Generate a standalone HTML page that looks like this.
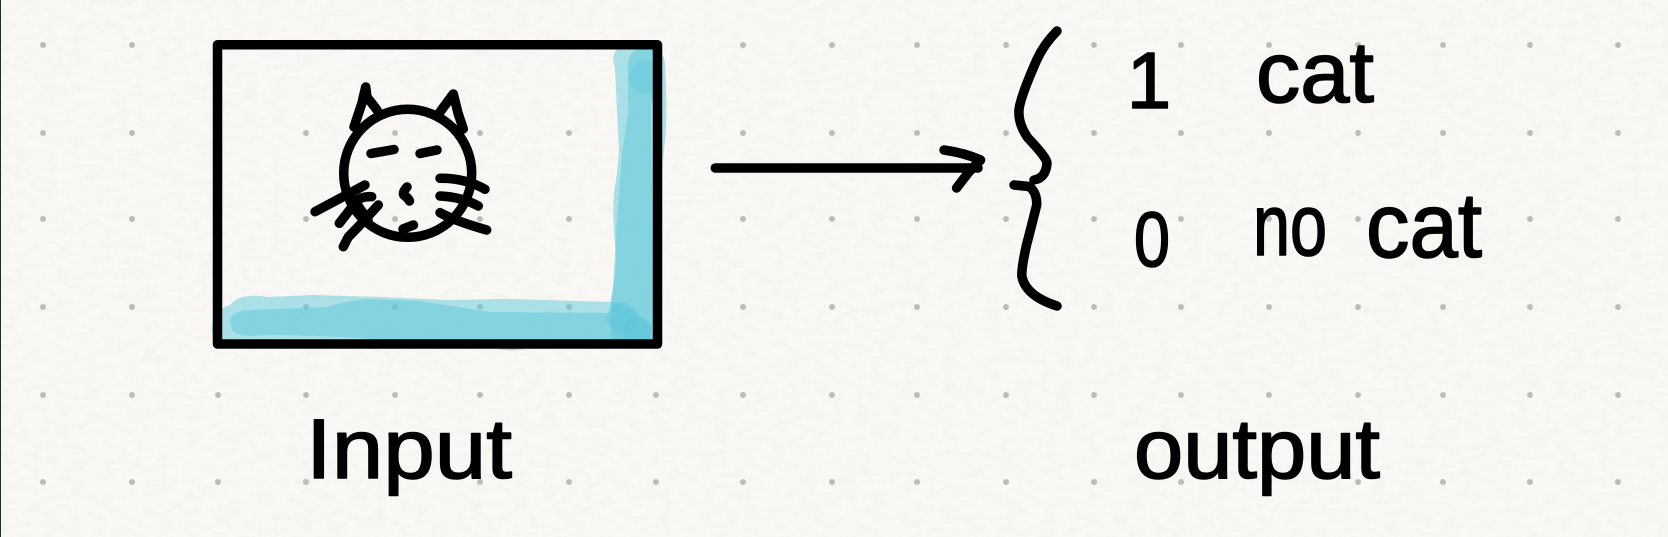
<!DOCTYPE html>
<html lang="en">
<head>
<meta charset="utf-8">
<title>Binary classification sketch</title>
<style>
html,body{margin:0;padding:0;width:1668px;height:537px;overflow:hidden;background:#f9f8f4}
svg{display:block}
.ink{fill:none;stroke:#000;stroke-width:9.5;stroke-linecap:round;stroke-linejoin:round}
.hand{font-family:"Liberation Sans",sans-serif;fill:#000;stroke:#000;stroke-width:1.6;stroke-linejoin:round}
</style>
</head>
<body>
<svg xmlns="http://www.w3.org/2000/svg" width="1668" height="537" viewBox="0 0 1668 537">
  <defs>
    <filter id="paper" x="0" y="0" width="100%" height="100%">
      <feTurbulence type="fractalNoise" baseFrequency="0.07 0.14" numOctaves="4" seed="7"/>
      <feColorMatrix type="matrix" values="0 0 0 0 0.45  0 0 0 0 0.44  0 0 0 0 0.40  0.5 0.5 0 0 -0.42"/>
    </filter>
  </defs>

  <rect x="0" y="0" width="1668" height="537" fill="#f9f8f4"/>
  <rect x="0" y="0" width="1668" height="537" filter="url(#paper)" opacity="0.2"/>
  <rect x="0" y="0" width="1" height="537" fill="#1f2c38"/>

  <path fill="none" stroke="#bdbcb8" stroke-width="6" stroke-linecap="round"
    d="M43 45h0M132 45h0M218 45h0M306 45h0M395 45h0M480 45h0M569 45h0M656 45h0M743 45h0M832 45h0M917 45h0M1006 45h0M1094 45h0M1181 45h0M1269 45h0M1358 45h0M1443 45h0M1530 45h0M1618 45h0
       M43 133h0M132 133h0M218 133h0M306 133h0M395 133h0M480 133h0M569 133h0M656 133h0M743 133h0M832 133h0M917 133h0M1006 133h0M1094 133h0M1181 133h0M1269 133h0M1358 133h0M1443 133h0M1530 133h0M1618 133h0
       M43 219h0M132 219h0M218 219h0M306 219h0M395 219h0M480 219h0M569 219h0M656 219h0M743 219h0M832 219h0M917 219h0M1006 219h0M1094 219h0M1181 219h0M1269 219h0M1358 219h0M1443 219h0M1530 219h0M1618 219h0
       M43 307h0M132 307h0M218 307h0M306 307h0M395 307h0M480 307h0M569 307h0M656 307h0M743 307h0M832 307h0M917 307h0M1006 307h0M1094 307h0M1181 307h0M1269 307h0M1358 307h0M1443 307h0M1530 307h0M1618 307h0
       M43 395h0M132 395h0M218 395h0M306 395h0M395 395h0M480 395h0M569 395h0M656 395h0M743 395h0M832 395h0M917 395h0M1006 395h0M1094 395h0M1181 395h0M1269 395h0M1358 395h0M1443 395h0M1530 395h0M1618 395h0
       M43 482h0M132 482h0M218 482h0M306 482h0M395 482h0M480 482h0M569 482h0M656 482h0M743 482h0M832 482h0M917 482h0M1006 482h0M1094 482h0M1181 482h0M1269 482h0M1358 482h0M1443 482h0M1530 482h0M1618 482h0"/>

  <g fill="#58c6da" fill-opacity="0.48">
    <path
      d="M212 325Q214 310 230 305Q238 296 250 296Q258 295 267 297L313 295L380 297L447 300L513 299L610 302Q630 305 640 316Q652 322 652 330L650 345L497 349Q512 352 527 349L380 345L263 342L215 342Q211 334 212 325Z"/>
    <path
      d="M230 320Q232 311 250 310L327 307Q345 301 367 299L420 301Q470 309 490 312L612 313L612 342L400 342Q340 335 262 335Q240 338 232 330Z"/>
    <path
      d="M613 60Q614 52 617 49L650 46Q664 50 665 63Q667 100 666 130L662 170L660 342L612 342Q610 320 610 303Q617 270 616 253Q612 220 614 193Q618 170 619 150Q617 110 615 70Z"/>
    <path
      d="M628 63Q630 50 640 49L660 50L660 65Q662 100 651 103L651 137L652 187L653 313L653 342L612 342L612 300L613 287L617 220L622 153L628 113Z"/>
    <circle cx="646" cy="77" r="17" fill-opacity="0.35"/>
    <circle cx="622" cy="317" r="15" fill-opacity="0.35"/>
    <circle cx="637" cy="331" r="14" fill-opacity="0.35"/>
  </g>

  <path class="ink" style="stroke-width:9.5" d="M217.5 44.7H657.5V344H217.5Z"/>

  <g class="ink">
    <circle cx="407.7" cy="173.3" r="64"/>
    <path d="M354 127L362 103L365.7 87L367 97L377 110"/>
    <path d="M440 112L453.3 94L458 113L463.3 129"/>
    <path d="M371 153.5L394 149.5"/>
    <path d="M420 153.5L437 150"/>
    <path d="M407 187Q401 194 405 196Q408 198 409.5 201"/>
    <path d="M403 229L413.5 225"/>
    <path d="M365 185L315 211.7"/>
    <path d="M371.7 196.7Q362 196 356.7 201L339.3 223.3"/>
    <path d="M378.3 205L360 225L348.3 237L343.3 246.7"/>
    <path d="M348.3 192L368 220"/>
    <path d="M440 178.3Q465 178 485 189.3"/>
    <path d="M440 196Q462 197 478.3 206"/>
    <path d="M440 212.7Q455 221 486.7 230"/>
  </g>

  <g class="ink">
    <path d="M715.3 168H978"/>
    <path d="M944 150Q965 153 980.6 160Q970 170 965 177L956.6 188"/>
  </g>

  <g class="ink">
    <path d="M1057 31Q1044 44 1036.7 60Q1020 98 1019 110Q1018 124 1028 138Q1047 158 1047 163Q1046 178 1034 180"/>
    <path d="M1014 185L1029 186.5Q1037 192 1036.7 205Q1030 232 1026.5 245Q1021 270 1022 277Q1026 296 1057 306"/>
  </g>

  <text class="hand" x="1149" y="108" font-size="80" text-anchor="middle">1</text>
  <text class="hand" x="1256" y="102" font-size="86" textLength="118" lengthAdjust="spacingAndGlyphs">cat</text>
  <text class="hand" x="1134" y="266" font-size="78" textLength="36" lengthAdjust="spacingAndGlyphs">0</text>
  <text class="hand" x="1253" y="255" font-size="87" textLength="74" lengthAdjust="spacingAndGlyphs">no</text>
  <text class="hand" x="1366" y="257" font-size="92" textLength="116" lengthAdjust="spacingAndGlyphs">cat</text>
  <text class="hand" x="306" y="478" font-size="84" textLength="206" lengthAdjust="spacingAndGlyphs">Input</text>
  <text class="hand" x="1134" y="478" font-size="84" textLength="246" lengthAdjust="spacingAndGlyphs">output</text>
</svg>
</body>
</html>
